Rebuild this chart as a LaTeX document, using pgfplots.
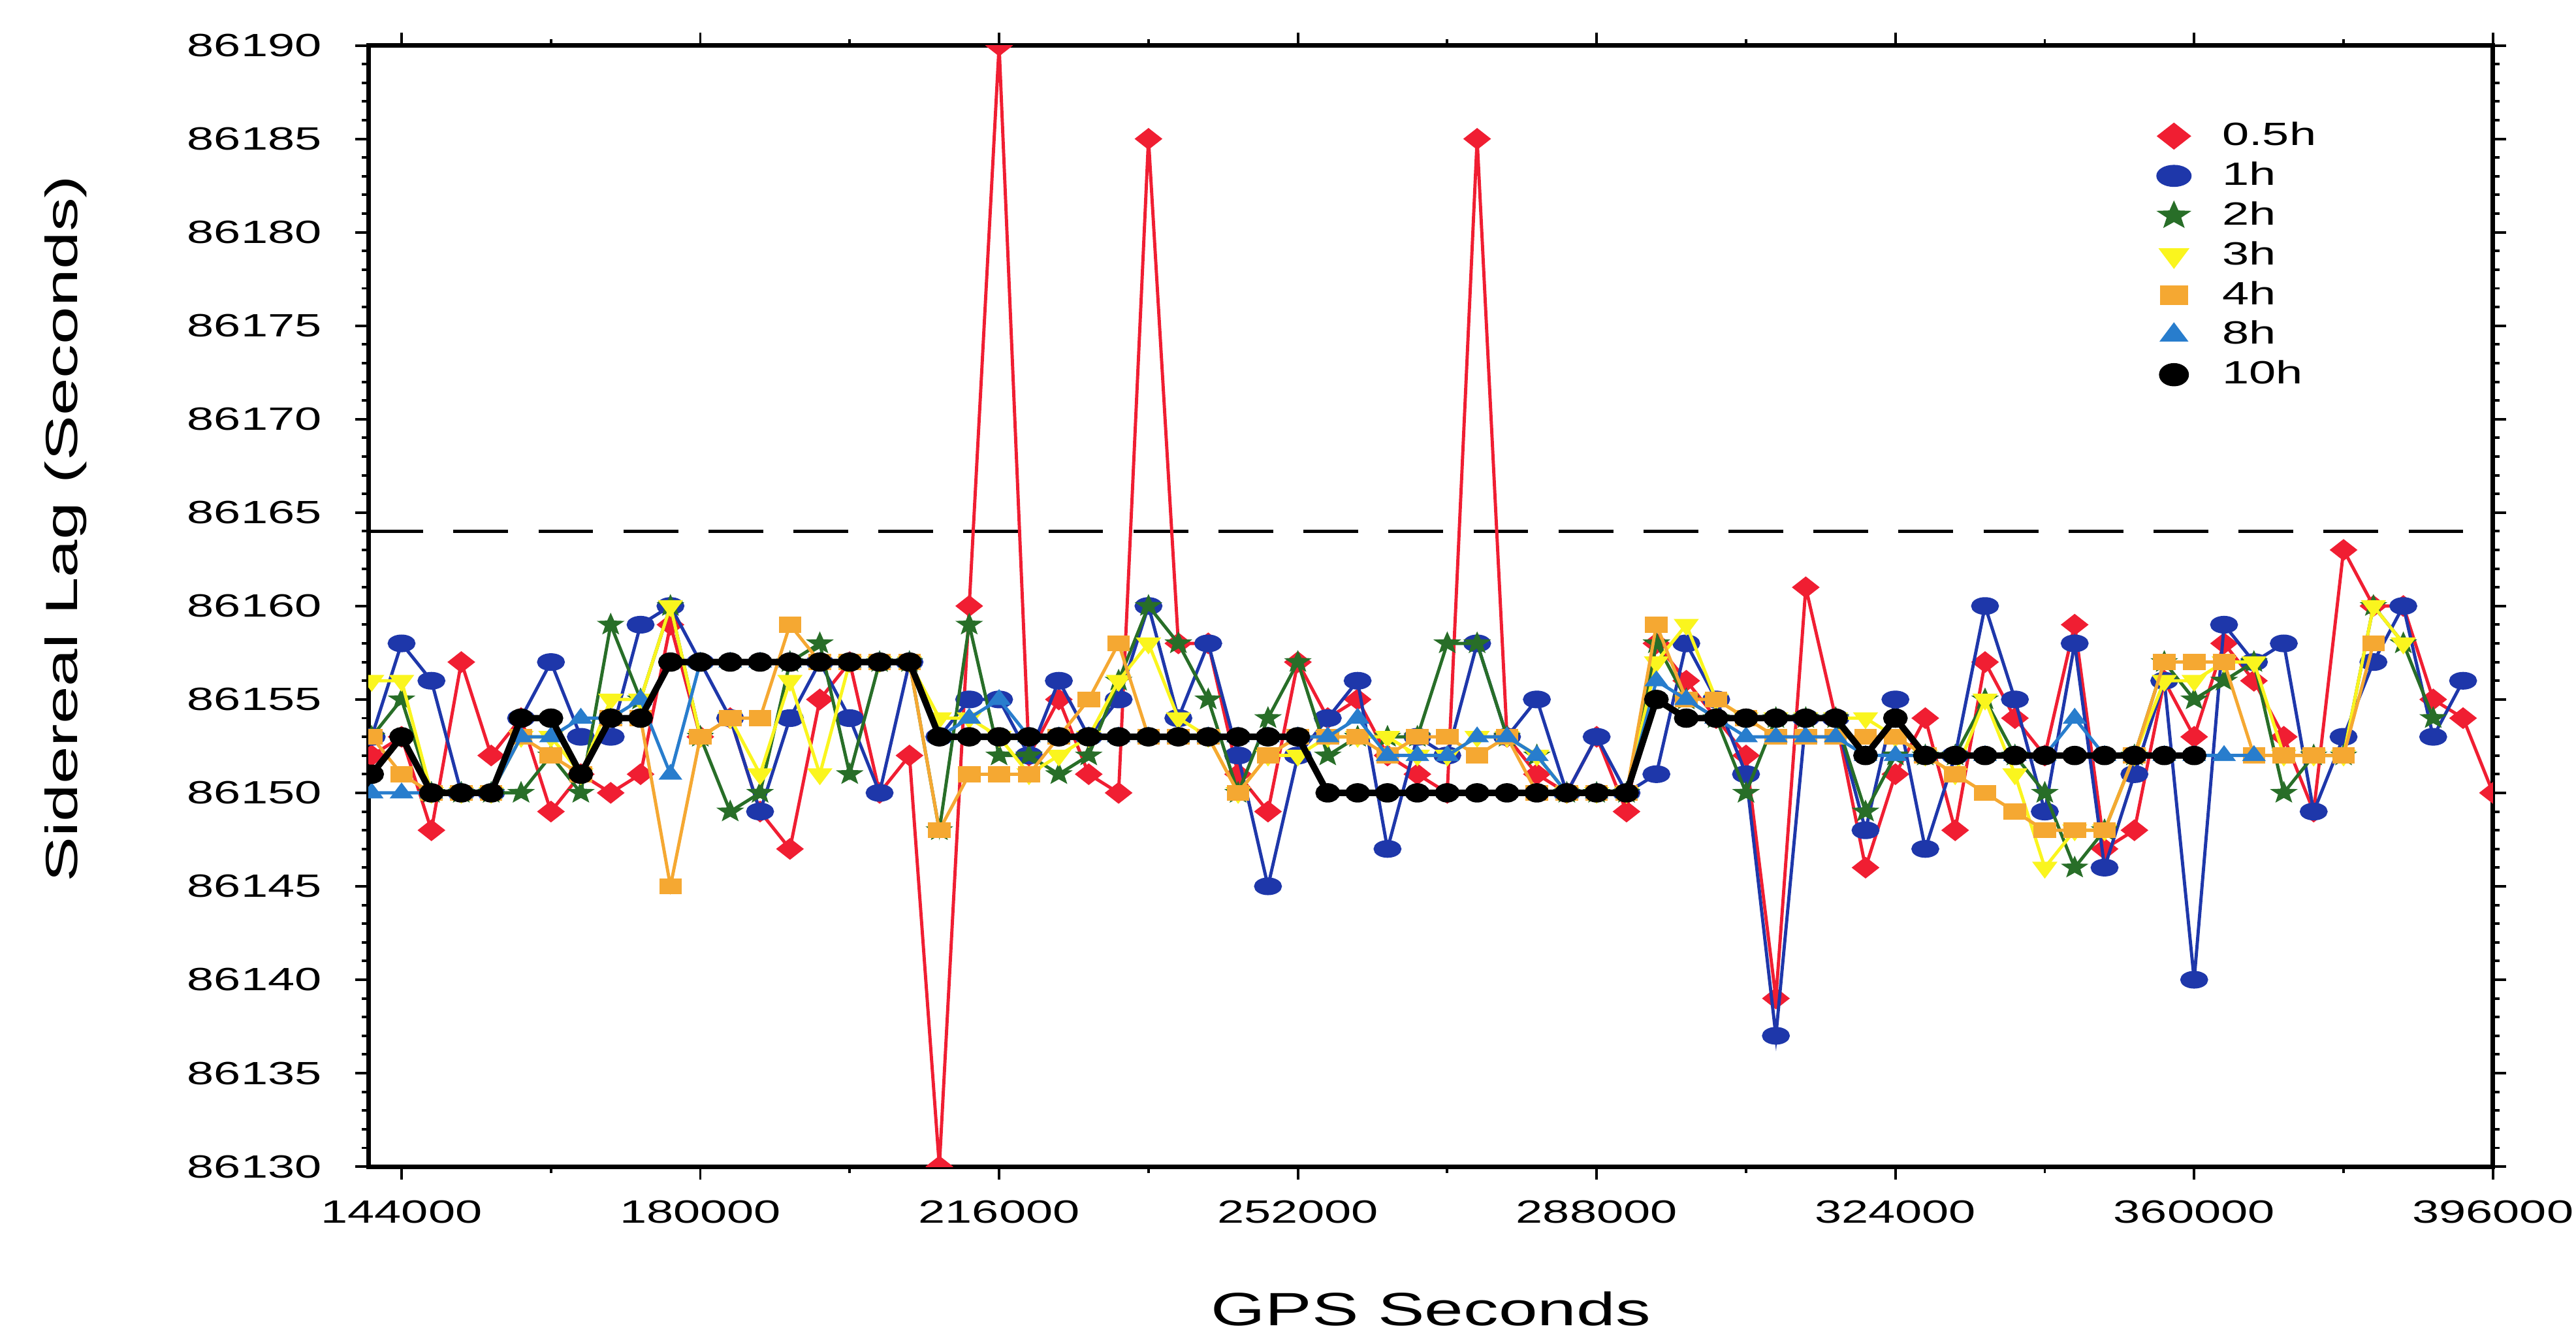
\documentclass[border=0pt]{standalone}
\usepackage{fontspec}
\setmainfont[FakeStretch=1.5]{Liberation Sans}
\usepackage{pgfplots}
\pgfplotsset{compat=1.18}
\usepackage{pgfplotstable}
\usetikzlibrary{plotmarks}

\definecolor{cred}{RGB}{240,30,50}
\definecolor{cblue}{RGB}{30,55,170}
\definecolor{cgreen}{RGB}{40,110,40}
\definecolor{cyellow}{RGB}{250,245,30}
\definecolor{corange}{RGB}{245,168,50}
\definecolor{clblue}{RGB}{40,125,205}

\pgfdeclareplotmark{fstar}{%
  \pgfpathmoveto{\pgfpointpolar{90}{1.2\pgfplotmarksize}}%
  \pgfpathlineto{\pgfpointpolar{126}{0.5\pgfplotmarksize}}%
  \pgfpathlineto{\pgfpointpolar{162}{1.2\pgfplotmarksize}}%
  \pgfpathlineto{\pgfpointpolar{198}{0.5\pgfplotmarksize}}%
  \pgfpathlineto{\pgfpointpolar{234}{1.2\pgfplotmarksize}}%
  \pgfpathlineto{\pgfpointpolar{270}{0.5\pgfplotmarksize}}%
  \pgfpathlineto{\pgfpointpolar{306}{1.2\pgfplotmarksize}}%
  \pgfpathlineto{\pgfpointpolar{342}{0.5\pgfplotmarksize}}%
  \pgfpathlineto{\pgfpointpolar{18}{1.2\pgfplotmarksize}}%
  \pgfpathlineto{\pgfpointpolar{54}{0.5\pgfplotmarksize}}%
  \pgfpathclose\pgfusepathqfillstroke}

\pgfplotstableread{
x r b g y o lb k
140400 86152 86153 86153 86156 86153 86150 86151
144000 86153 86158 86155 86156 86151 86150 86153
147600 86148 86156 86150 86150 86150 86150 86150
151200 86157 86150 86150 86150 86150 86150 86150
154800 86152 86150 86150 86150 86150 86150 86150
158400 86154 86154 86150 86153 86153 86153 86154
162000 86149 86157 86152 86153 86152 86153 86154
165600 86151 86153 86150 86151 86151 86154 86151
169200 86150 86153 86159 86155 86154 86154 86154
172800 86151 86159 86155 86155 86154 86155 86154
176400 86159 86160 86160 86160 86145 86151 86157
180000 86153 86157 86153 86153 86153 86157 86157
183600 86154 86154 86149 86154 86154 86157 86157
187200 86149 86149 86150 86151 86154 86157 86157
190800 86147 86154 86157 86156 86159 86157 86157
194400 86155 86157 86158 86151 86157 86157 86157
198000 86157 86154 86151 86157 86157 86157 86157
201600 86150 86150 86157 86157 86157 86157 86157
205200 86152 86157 86157 86157 86157 86157 86157
208800 86130 86153 86148 86154 86148 86153 86153
212400 86160 86155 86159 86154 86151 86154 86153
216000 86190 86155 86152 86153 86151 86155 86153
219600 86152 86152 86152 86151 86151 86153 86153
223200 86155 86156 86151 86152 86153 86153 86153
226800 86151 86153 86152 86153 86155 86153 86153
230400 86150 86155 86156 86156 86158 86153 86153
234000 86185 86160 86160 86158 86153 86153 86153
237600 86158 86154 86158 86154 86153 86153 86153
241200 86158 86158 86155 86153 86153 86153 86153
244800 86151 86152 86150 86150 86150 86153 86153
248400 86149 86145 86154 86152 86152 86153 86153
252000 86157 86152 86157 86152 86153 86153 86153
255600 86154 86154 86152 86153 86153 86153 86150
259200 86155 86156 86153 86153 86153 86154 86150
262800 86152 86147 86153 86153 86152 86152 86150
266400 86151 86153 86153 86152 86153 86152 86150
270000 86150 86152 86158 86152 86153 86152 86150
273600 86185 86158 86158 86153 86152 86153 86150
277200 86153 86153 86153 86153 86153 86153 86150
280800 86151 86155 86152 86152 86150 86152 86150
284400 86150 86150 86150 86150 86150 86150 86150
288000 86153 86153 86150 86150 86150 86150 86150
291600 86149 86150 86150 86150 86150 86150 86150
295200 86158 86151 86158 86157 86159 86156 86155
298800 86156 86158 86155 86159 86155 86155 86154
302400 86154 86155 86154 86155 86155 86154 86154
306000 86152 86151 86150 86154 86154 86153 86154
309600 86139 86137 86154 86154 86153 86153 86154
313200 86161 86154 86154 86154 86153 86153 86154
316800 86154 86154 86154 86154 86153 86153 86154
320400 86146 86148 86149 86154 86153 86152 86152
324000 86151 86155 86152 86153 86153 86152 86154
327600 86154 86147 86152 86152 86152 86152 86152
331200 86148 86152 86152 86151 86151 86152 86152
334800 86157 86160 86155 86155 86150 86152 86152
338400 86154 86155 86152 86151 86149 86152 86152
342000 86152 86149 86150 86146 86148 86152 86152
345600 86159 86158 86146 86148 86148 86154 86152
349200 86147 86146 86148 86148 86148 86152 86152
352800 86148 86151 86152 86152 86152 86152 86152
356400 86156 86156 86157 86156 86157 86152 86152
360000 86153 86140 86155 86156 86157 86152 86152
363600 86158 86159 86156 86157 86157 86152 nan
367200 86156 86157 86157 86157 86152 86152 nan
370800 86153 86158 86150 86152 86152 nan nan
374400 86149 86149 86152 86152 86152 nan nan
378000 86163 86153 86152 86152 86152 nan nan
381600 86160 86157 86160 86160 86158 nan nan
385200 86160 86160 86158 86158 nan nan nan
388800 86155 86153 86154 nan nan nan nan
392400 86154 86156 nan nan nan nan nan
396000 86150 nan nan nan nan nan nan
}\data

\begin{document}
\begin{tikzpicture}
\begin{axis}[
  scale only axis,
  width=659.8pt, height=348.1pt,
  xmin=140000, xmax=396000, ymin=86130, ymax=86190,
  xtick={144000,180000,216000,252000,288000,324000,360000,396000},
  ytick={86130,86135,86140,86145,86150,86155,86160,86165,86170,86175,86180,86185,86190},
  minor x tick num=1, minor y tick num=4,
  scaled x ticks=false, scaled y ticks=false,
  xticklabel={\pgfmathprintnumber[fixed,precision=0,1000 sep={},assume math mode=true]{\tick}},
  yticklabel={\pgfmathprintnumber[fixed,precision=0,1000 sep={},assume math mode=true]{\tick}},
  tick align=outside,
  major tick length=4pt, minor tick length=2pt,
  every tick/.style={black, line width=0.8pt},
  axis line style={line width=1.4pt},
  tick label style={font=\fontsize{10}{12}\selectfont},
  yticklabel style={xshift=-7pt},
  xticklabel style={yshift=-3pt},
  clip marker paths=true,
  xlabel={GPS Seconds}, ylabel={Sidereal Lag (Seconds)},
  xlabel style={font=\fontsize{14.5}{17}\selectfont, at={(axis description cs:0.5,-0.127)}, anchor=center},
  ylabel style={font=\fontsize{14}{17}\selectfont, at={(axis description cs:-0.1425,0.569)}, anchor=center},
  legend style={at={(0.842,0.938)}, anchor=north west, draw=none, fill=none,
    font=\fontsize{10}{12}\selectfont, row sep=-0.4pt, inner sep=0pt,
    /tikz/every odd column/.append style={column sep=8pt}},
  legend cell align=left,
  legend image code/.code={\draw[#1, every mark/.append style={scale=1.3}] plot coordinates {(0.25cm,0cm)};},
]
\addplot[forget plot, black, line width=1pt, dash pattern=on 17pt off 9.4pt] coordinates {(140000,86164) (396000,86164)};
\addplot[cred, line width=1pt, mark=diamond*, mark size=2.75pt, mark options={xscale=1.7, fill=cred, draw=cred}] table[x=x,y=r]{\data};
\addlegendentry{0.5h}
\addplot[cblue, line width=1pt, mark=*, mark size=2.25pt, mark options={xscale=1.7, fill=cblue, draw=cblue}] table[x=x,y=b]{\data};
\addlegendentry{1h}
\addplot[cgreen, line width=1pt, mark=fstar, mark size=2.8pt, mark options={xscale=1.2, fill=cgreen, draw=cgreen, line width=0.3pt}] table[x=x,y=g]{\data};
\addlegendentry{2h}
\addplot[cyellow, line width=1pt, mark=triangle*, mark size=2.6pt, mark options={rotate=180, xscale=1.3, fill=cyellow, draw=cyellow}] table[x=x,y=y]{\data};
\addlegendentry{3h}
\addplot[corange, line width=1pt, mark=square*, mark size=2pt, mark options={xscale=1.5, fill=corange, draw=corange}] table[x=x,y=o]{\data};
\addlegendentry{4h}
\addplot[clblue, line width=1pt, mark=triangle*, mark size=2.4pt, mark options={xscale=1.3, fill=clblue, draw=clblue}] table[x=x,y=lb]{\data};
\addlegendentry{8h}
\addplot[black, line width=2pt, mark=*, mark size=2pt, mark options={xscale=1.4, fill=black, draw=black}] table[x=x,y=k]{\data};
\addlegendentry{10h}
\end{axis}
\pgfresetboundingbox
\path[use as bounding box] (-114.4pt,-52.9pt) rectangle (685.6pt,362.2pt);
\end{tikzpicture}
\end{document}
